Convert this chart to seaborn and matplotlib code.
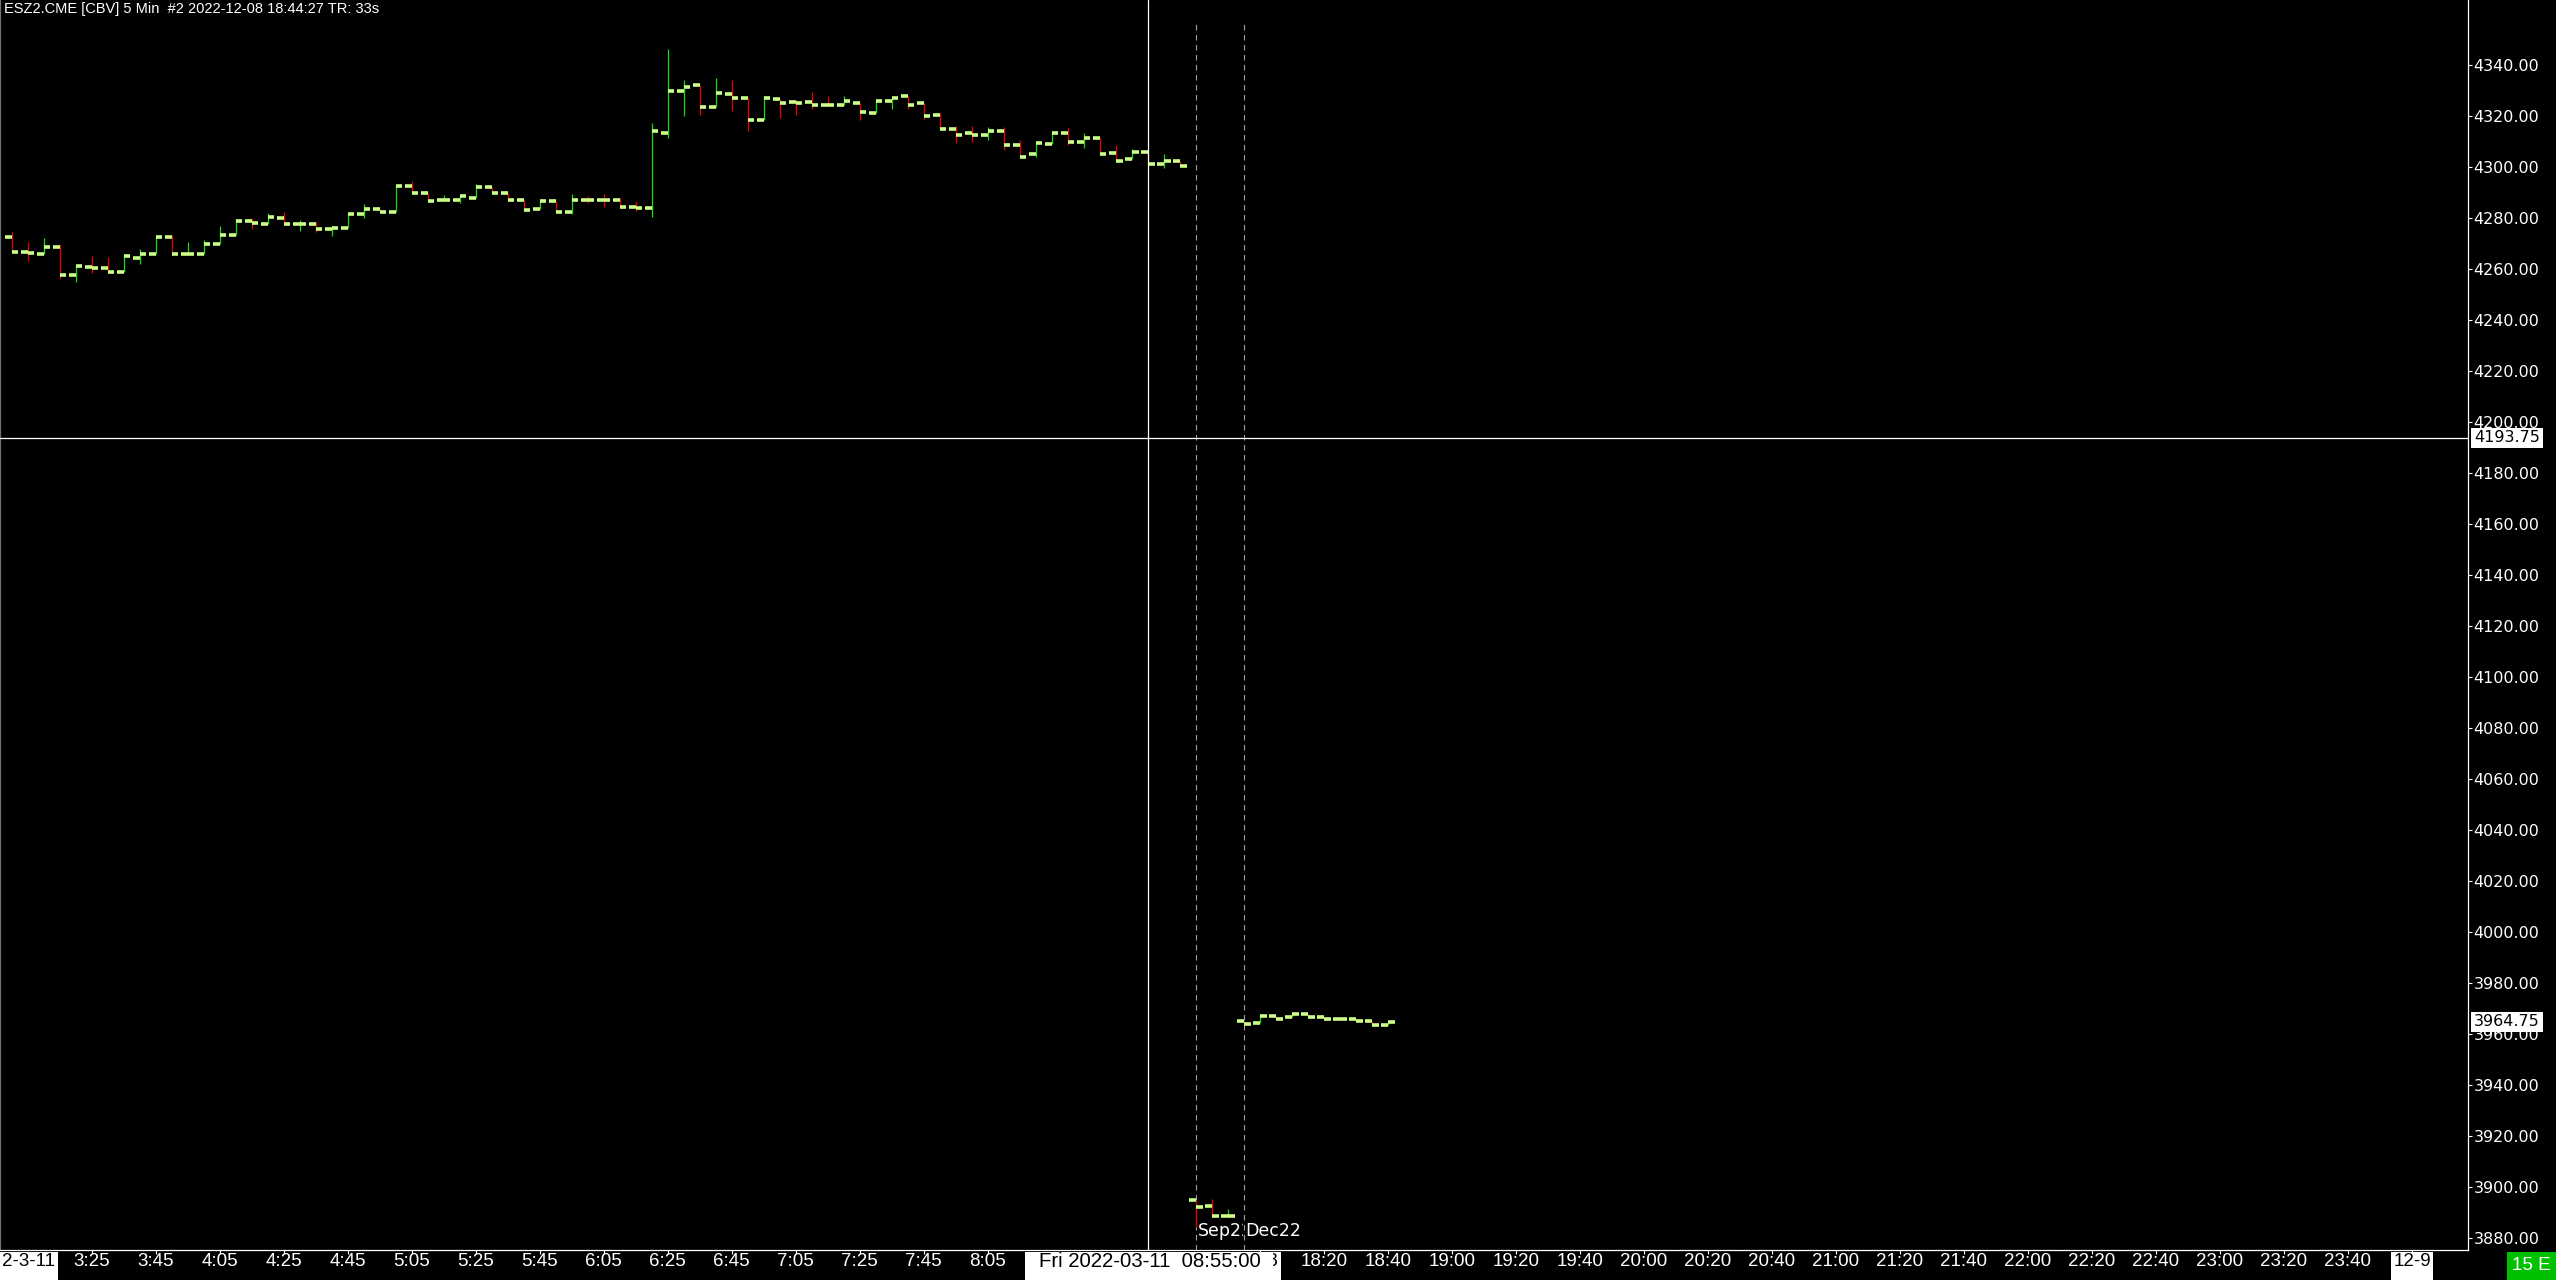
import numpy as np
import pandas as pd
import matplotlib
matplotlib.use("Agg")
import matplotlib.pyplot as plt
import matplotlib.transforms as mtransforms
from matplotlib import font_manager
from matplotlib.patches import Rectangle
import seaborn as sns

# 5 min OHLC bars (bar index 0 = first visible bar)
opens = [4272.5, 4266.5, 4266.0, 4268.5, 4257.5, 4260.75, 4260.25, 4258.75, 4264.5, 4266.0,
         4272.75, 4265.75, 4266.0, 4269.75, 4273.25, 4278.75, 4277.5, 4280.0, 4277.5, 4277.5,
         4275.5, 4276.25, 4281.5, 4283.5, 4282.25, 4292.5, 4289.75, 4287.0, 4287.0, 4288.0,
         4292.0, 4290.0, 4287.0, 4283.5, 4286.5, 4282.5, 4287.25, 4287.25, 4287.0, 4284.5,
         4283.75, 4313.5, 4330.0, 4332.0, 4323.5, 4328.5, 4327.0, 4318.25, 4326.5, 4325.5,
         4325.5, 4324.5, 4324.25, 4325.0, 4321.0, 4325.75, 4327.75, 4325.0, 4320.25, 4314.75,
         4313.25, 4312.5, 4314.0, 4308.5, 4305.0, 4309.0, 4313.25, 4309.75, 4311.25, 4305.5,
         4303.0, 4305.75, 4301.0, 4302.5,
         3894.75, 3892.5, 3888.5,
         3965.0, 3964.25, 3967.0, 3966.5, 3968.0, 3966.5, 3965.75, 3965.75, 3965.0, 3963.5]
highs = [4274.5, 4270.5, 4272.25, 4269.75, 4261.0, 4265.0, 4264.75, 4265.0, 4267.75, 4272.75,
         4273.5, 4270.5, 4271.5, 4277.0, 4279.5, 4280.0, 4282.0, 4282.25, 4279.25, 4278.5,
         4277.0, 4281.5, 4285.5, 4283.5, 4292.5, 4294.5, 4289.75, 4289.0, 4288.5, 4293.25,
         4292.0, 4290.0, 4287.0, 4286.5, 4286.5, 4289.5, 4288.5, 4289.5, 4288.0, 4286.5,
         4317.25, 4346.25, 4334.0, 4332.0, 4335.0, 4334.0, 4327.0, 4327.75, 4326.5, 4326.25,
         4329.5, 4327.75, 4327.75, 4325.0, 4326.0, 4327.25, 4327.75, 4325.0, 4321.0, 4316.0,
         4316.0, 4315.5, 4315.75, 4310.5, 4309.25, 4313.25, 4315.25, 4313.25, 4311.25, 4308.5,
         4307.0, 4306.25, 4305.0, 4302.5,
         3895.0, 3895.25, 3891.5,
         3965.25, 3967.25, 3967.0, 3968.0, 3968.0, 3966.5, 3965.75, 3965.75, 3965.0, 3964.75]
lows = [4266.5, 4263.25, 4266.0, 4256.25, 4255.0, 4258.25, 4258.75, 4258.75, 4262.0, 4266.0,
        4265.75, 4265.5, 4266.0, 4269.75, 4273.25, 4275.75, 4277.5, 4277.5, 4275.0, 4274.5,
        4273.0, 4276.25, 4280.0, 4282.25, 4282.25, 4289.75, 4286.5, 4287.0, 4286.0, 4288.0,
        4290.0, 4287.0, 4283.0, 4283.5, 4282.25, 4281.5, 4286.0, 4284.25, 4284.5, 4282.75,
        4280.5, 4311.5, 4320.0, 4320.5, 4323.5, 4322.0, 4314.0, 4318.25, 4319.25, 4320.5,
        4322.75, 4324.25, 4324.25, 4318.5, 4321.0, 4322.75, 4322.75, 4318.75, 4314.75, 4309.5,
        4309.75, 4310.5, 4306.5, 4304.0, 4304.0, 4309.0, 4308.5, 4307.5, 4305.0, 4302.5,
        4303.0, 4301.0, 4299.75, 4300.25,
        3884.5, 3888.5, 3888.5,
        3963.75, 3964.25, 3966.0, 3966.5, 3966.5, 3965.75, 3965.75, 3965.0, 3963.5, 3963.5]
closes = [4266.5, 4266.25, 4268.5, 4257.5, 4261.0, 4260.25, 4258.75, 4265.0, 4266.0, 4272.75,
          4265.75, 4266.0, 4270.0, 4273.25, 4278.75, 4278.0, 4280.25, 4277.5, 4277.5, 4275.5,
          4276.0, 4281.5, 4283.5, 4282.25, 4292.5, 4289.75, 4286.5, 4287.0, 4288.5, 4292.0,
          4290.0, 4287.0, 4283.0, 4286.5, 4282.5, 4287.25, 4287.0, 4287.0, 4284.5, 4283.75,
          4314.0, 4329.75, 4331.5, 4323.5, 4329.0, 4327.25, 4318.25, 4327.0, 4325.0, 4325.0,
          4324.25, 4324.25, 4325.75, 4321.5, 4326.0, 4327.25, 4324.5, 4320.0, 4314.75, 4312.75,
          4312.5, 4314.0, 4308.5, 4304.0, 4309.25, 4313.25, 4309.75, 4311.25, 4305.0, 4302.5,
          4305.75, 4301.0, 4302.5, 4300.25,
          3892.0, 3888.5, 3888.75,
          3963.75, 3967.25, 3966.0, 3968.0, 3966.5, 3965.75, 3965.75, 3965.0, 3963.5, 3964.75]

# time axis labels
time_labels = ['3:25', '3:45', '4:05', '4:25', '4:45', '5:05', '5:25', '5:45', '6:05',
               '6:25', '6:45', '7:05', '7:25', '7:45', '8:05',
               '18:20', '18:40', '19:00', '19:20', '19:40', '20:00', '20:20', '20:40',
               '21:00', '21:20', '21:40', '22:00', '22:20', '22:40', '23:00', '23:20', '23:40']
time_label_bars = list(range(5, 62, 4)) + list(range(82, 147, 4))
date_labels = ['12-8', '12-9']
date_label_bars = [78, 150]

price_ticks = list(range(3880, 4341, 20))
cursor_bar = 71
cursor_price = 4193.75
cursor_time = 'Fri 2022-03-11  08:55:00'
last_price = 3964.75
rollover_bars = [74, 77]
rollover_names = ['Sep22', 'Dec22']
title = 'ESZ2.CME [CBV] 5 Min  #2 2022-12-08 18:44:27 TR: 33s'

df = pd.DataFrame({'bar': np.arange(len(opens)), 'open': opens, 'high': highs,
                   'low': lows, 'close': closes})
df['up'] = df['close'] >= df['open']

sns.set_style("dark", {"axes.facecolor": "black", "figure.facecolor": "black",
                       "axes.edgecolor": "white", "text.color": "white",
                       "xtick.color": "white", "ytick.color": "white"})
plt.rcParams['font.family'] = ['DejaVu Sans']

# a narrow face for the time scale if one is installed
installed = {f.name for f in font_manager.fontManager.ttflist}
if 'Liberation Sans Narrow' in installed:
    narrow, narrow_size, cursor_size = 'Liberation Sans Narrow', 15, 16
else:
    narrow, narrow_size, cursor_size = 'Liberation Sans', 13.5, 14.7

GREEN = '#10e010'
RED = '#e80000'
TICK = '#ccff88'

W, H = 2556, 1280
fig = plt.figure(figsize=(W / 100, H / 100), dpi=100)
ax = fig.add_axes([0, 30 / H, 2468 / W, 1250 / H])

# high-low lines
ax.vlines(df['bar'], df['low'], df['high'],
          colors=np.where(df['up'], GREEN, RED), linewidth=0.9, zorder=2)
# open / close ticks
ax.hlines(df['open'], df['bar'] - 0.43, df['bar'], colors=TICK, linewidth=2.6,
          capstyle='butt', zorder=3)
ax.hlines(df['close'], df['bar'], df['bar'] + 0.42, colors=TICK, linewidth=2.6,
          capstyle='butt', zorder=3)

ax.set_xlim(-0.725, 153.5)
ax.set_ylim(3875.3, 4365.5)

# crosshair
ax.axhline(cursor_price, color='white', lw=0.9, zorder=4)
ax.axvline(cursor_bar, color='white', lw=0.9, zorder=4)

# contract rollover lines
ax.vlines(rollover_bars, 3875.3, 4356, colors='#a0a0a0', linewidth=0.8,
          linestyles=(0, (5, 4)), zorder=1)
xt = ax.get_xaxis_transform()
sep = ax.text(rollover_bars[0] + 0.12, 0.008, rollover_names[0], transform=xt,
              ha='left', va='bottom', fontsize=12.5, color='white', zorder=5)
sep.set_clip_box(mtransforms.TransformedBbox(
    mtransforms.Bbox([[rollover_bars[0], 0], [rollover_bars[1] - 0.02, 1]]), xt))
sep.set_clip_on(True)
ax.text(rollover_bars[1] + 0.08, 0.008, rollover_names[1], transform=xt,
        ha='left', va='bottom', fontsize=12.5, color='white', zorder=6)

# right price axis
ax.yaxis.tick_right()
ax.set_yticks(price_ticks)
ax.set_yticklabels([f'{v:.2f}' for v in price_ticks])
ax.tick_params(axis='y', colors='white', length=3, width=0.8, pad=1, labelsize=11.5,
               right=True, left=False)
ax.grid(False)

# bottom time axis: tick marks only, labels drawn as text
ax.set_xticks(time_label_bars + date_label_bars)
ax.set_xticklabels([])
ax.tick_params(axis='x', colors='white', length=3, width=0.8, bottom=True)

label_y = -0.0092
box_y0, box_h = -30 / 1250, 28 / 1250

for b, lab in zip(time_label_bars, time_labels):
    ax.text(b, label_y, lab, transform=xt, ha='center', va='center', color='white',
            family=narrow, fontsize=narrow_size, clip_on=False)

# white boxed date labels
for b, lab in zip(date_label_bars, date_labels):
    ax.add_patch(Rectangle((b - 1.3, box_y0), 2.6, box_h, transform=xt, clip_on=False,
                           facecolor='white', edgecolor='none', zorder=6))
    ax.text(b, label_y, lab, transform=xt, ha='center', va='center', color='black',
            family=narrow, fontsize=narrow_size, clip_on=False, zorder=6.5)
ax.add_patch(Rectangle((-0.725, box_y0), 3.6, box_h, transform=xt, clip_on=False,
                       facecolor='white', edgecolor='none', zorder=6))
ax.text(-0.6, label_y, '2-3-11', transform=xt, ha='left', va='center', color='black',
        family=narrow, fontsize=narrow_size, clip_on=False, zorder=6.5)

# cursor time box
ax.add_patch(Rectangle((cursor_bar - 7.66, box_y0), 15.5, box_h, transform=xt,
                       clip_on=False, facecolor='white', edgecolor='none', zorder=7))
ax.text(cursor_bar + 0.1, label_y, cursor_time, transform=xt, ha='center', va='center',
        color='black', family=narrow, fontsize=cursor_size, clip_on=False, zorder=7.5)

# price value boxes on the right scale
yt = mtransforms.blended_transform_factory(ax.transAxes, ax.transData)
for p in [cursor_price, last_price]:
    ax.text(1.0025, p, f'{p:.2f}', transform=yt, ha='left', va='center', color='black',
            fontsize=11.5, clip_on=False, zorder=7,
            bbox=dict(boxstyle='square,pad=0.18', fc='white', ec='none'))

ax.spines['top'].set_visible(False)
ax.spines['right'].set_color('white')
ax.spines['bottom'].set_color('white')
ax.spines['left'].set_color('#707070')
for side in ['right', 'bottom', 'left']:
    ax.spines[side].set_linewidth(0.9)

fig.text(4 / W, 1 - 2 / H, title, ha='left', va='top', color='white',
         family='Liberation Sans', fontsize=10.5)

fig.patches.append(Rectangle((2507 / W, 0), 49 / W, 28 / H, transform=fig.transFigure,
                             facecolor='#00c000', edgecolor='none'))
fig.text(2531 / W, 14 / H, '15 E', ha='center', va='center', color='white',
         family=narrow, fontsize=narrow_size)

fig.savefig('out.png', dpi=100, facecolor='black')
